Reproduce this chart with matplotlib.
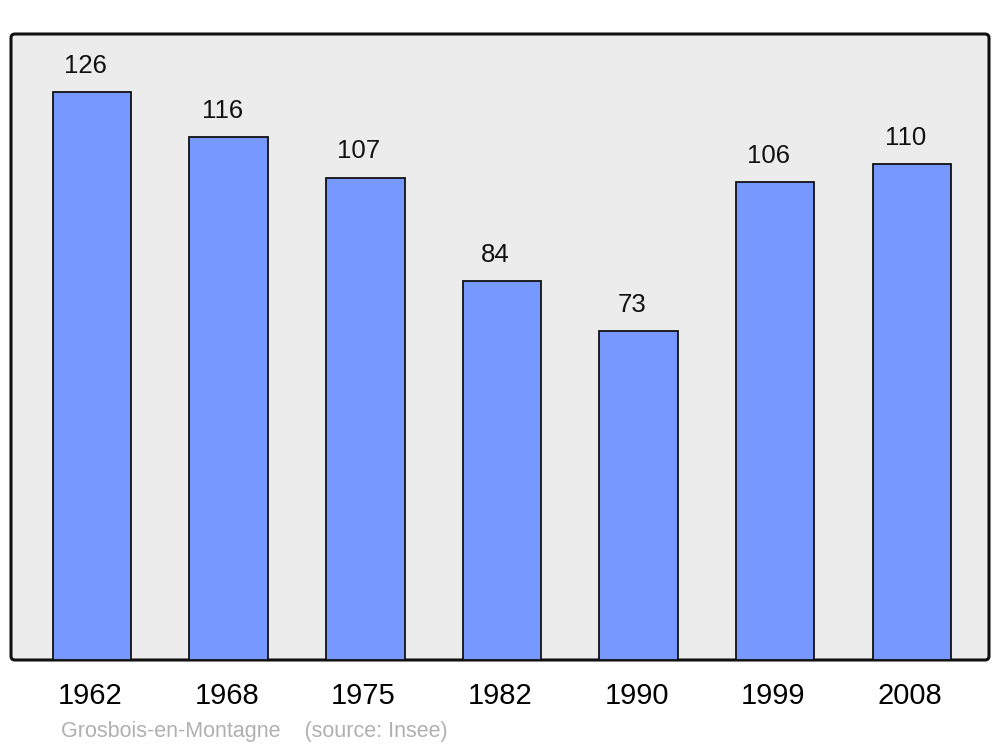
import matplotlib
matplotlib.use("Agg")
import matplotlib.pyplot as plt
from matplotlib.patches import FancyBboxPatch
import matplotlib.transforms as mtransforms

plt.rcParams['font.family'] = ['Liberation Sans', 'DejaVu Sans']

years = ["1962", "1968", "1975", "1982", "1990", "1999", "2008"]
population = [126, 116, 107, 84, 73, 106, 110]
source_text = "Grosbois-en-Montagne    (source: Insee)"

fig = plt.figure(figsize=(10, 7.47), dpi=100)
W, H = 1000, 747
left, right, top, bottom = 11, 989, 34, 660
ax = fig.add_axes([left / W, (H - bottom) / H, (right - left) / W, (bottom - top) / H])
ax.set_zorder(1)

# rounded background frame in pixel coords
frame = FancyBboxPatch((left, H - bottom), right - left, bottom - top,
                       boxstyle="round,pad=0,rounding_size=4",
                       transform=mtransforms.IdentityTransform(),
                       facecolor="#ececec", edgecolor="#111111", linewidth=2.2,
                       zorder=-1)
fig.patches.append(frame)
ax.set_facecolor("none")
for s in ax.spines.values():
    s.set_visible(False)

x = list(range(len(years)))
ax.bar(x, population, width=0.575, color="#7799ff", edgecolor="#111111",
       linewidth=1.3, zorder=2)

for xi, v in zip(x, population):
    ax.annotate(str(v), (xi, v), xytext=(-4.5, 14), textcoords="offset points",
                ha="center", va="baseline", fontsize=18.5, color="#111111")

ax.set_xlim(-0.593, len(years) - 1 + 0.565)
ax.set_ylim(0, 138.9)
ax.set_yticks([])
ax.set_xticks(x)
ax.set_xticklabels(years, fontsize=21)
ax.tick_params(axis="x", length=0, pad=16)
shift = mtransforms.ScaledTranslation(-2 / 100, 0, fig.dpi_scale_trans)
for lab in ax.get_xticklabels():
    lab.set_transform(lab.get_transform() + shift)

fig.text(61 / W, 1 - 731 / H, source_text, fontsize=15.5, color="#b0b0b0",
         ha="left", va="center")

fig.savefig("out.png", dpi=100)
